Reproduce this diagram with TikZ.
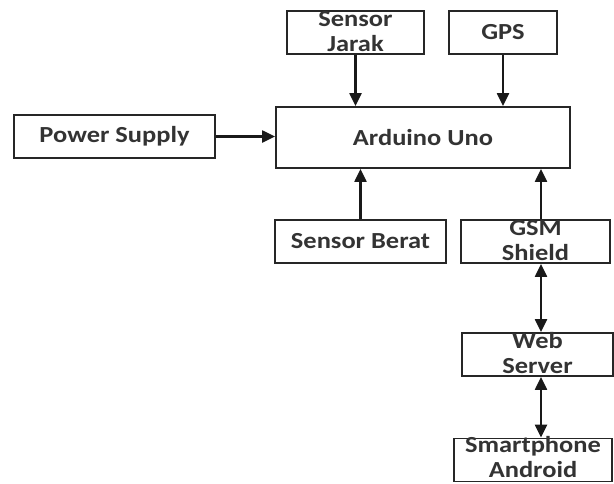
\documentclass[tikz,border=0pt]{standalone}
\usepackage{fontspec}
\setmainfont{Carlito}[BoldFeatures={FakeStretch=1.15}]
\usetikzlibrary{arrows.meta}
\newcommand{\twolines}[3][-16pt]{\raisebox{#1}{\smash{\begin{tabular}[c]{@{}c@{}}#2\\[0pt]#3\end{tabular}}}}
\tikzset{
  blk/.style={draw=black!85, line width=1.8pt, inner sep=0pt, font=\fontsize{23}{25}\selectfont\bfseries, text=black!80},
  conn/.style={line width=2.2pt, draw=black!90, -{Triangle[length=13pt,width=12pt]}},
  bconn/.style={line width=2.2pt, draw=black!90, {Triangle[length=13pt,width=12pt]}-{Triangle[length=13pt,width=12pt]}}
}
\begin{document}
\begin{tikzpicture}[x=1pt,y=-1pt]
\useasboundingbox (0,0) rectangle (614,483);
\node[blk, minimum width=137pt, minimum height=43pt] (jarak) at (355.5,32.5) {\twolines{Sensor}{Jarak}};
\node[blk, minimum width=108pt, minimum height=43pt] (gps) at (503,32.5) {GPS};
\node[blk, minimum width=294pt, minimum height=61pt] (ard) at (423,137.5) {Arduino Uno};
\node[blk, minimum width=201pt, minimum height=43pt] (power) at (114.5,136.5) {Power Supply};
\node[blk, minimum width=171pt, minimum height=43pt] (berat) at (360.5,241.5) {Sensor Berat};
\node[blk, minimum width=149pt, minimum height=43pt] (gsm) at (535.5,241.5) {\twolines{GSM}{Shield}};
\node[blk, minimum width=151pt, minimum height=43pt] (web) at (537.5,354.5) {\twolines{Web}{Server}};
\node[blk, minimum width=158pt, minimum height=43pt] (smart) at (533,460) {\twolines[-13pt]{Smartphone}{Android}};
\coordinate (gsmx) at (541,0);
\draw[conn] (jarak.south) -- (jarak.south |- ard.north);
\draw[conn] (gps.south) -- (gps.south |- ard.north);
\draw[conn] (power.east) -- (ard.west |- power.east);
\draw[conn] (berat.north) -- (berat.north |- ard.south);
\draw[conn] (gsmx |- gsm.north) -- (gsmx |- ard.south);
\draw[bconn] (gsmx |- gsm.south) -- (gsmx |- web.north);
\draw[bconn] (gsmx |- web.south) -- (gsmx |- smart.north);
\end{tikzpicture}
\end{document}
